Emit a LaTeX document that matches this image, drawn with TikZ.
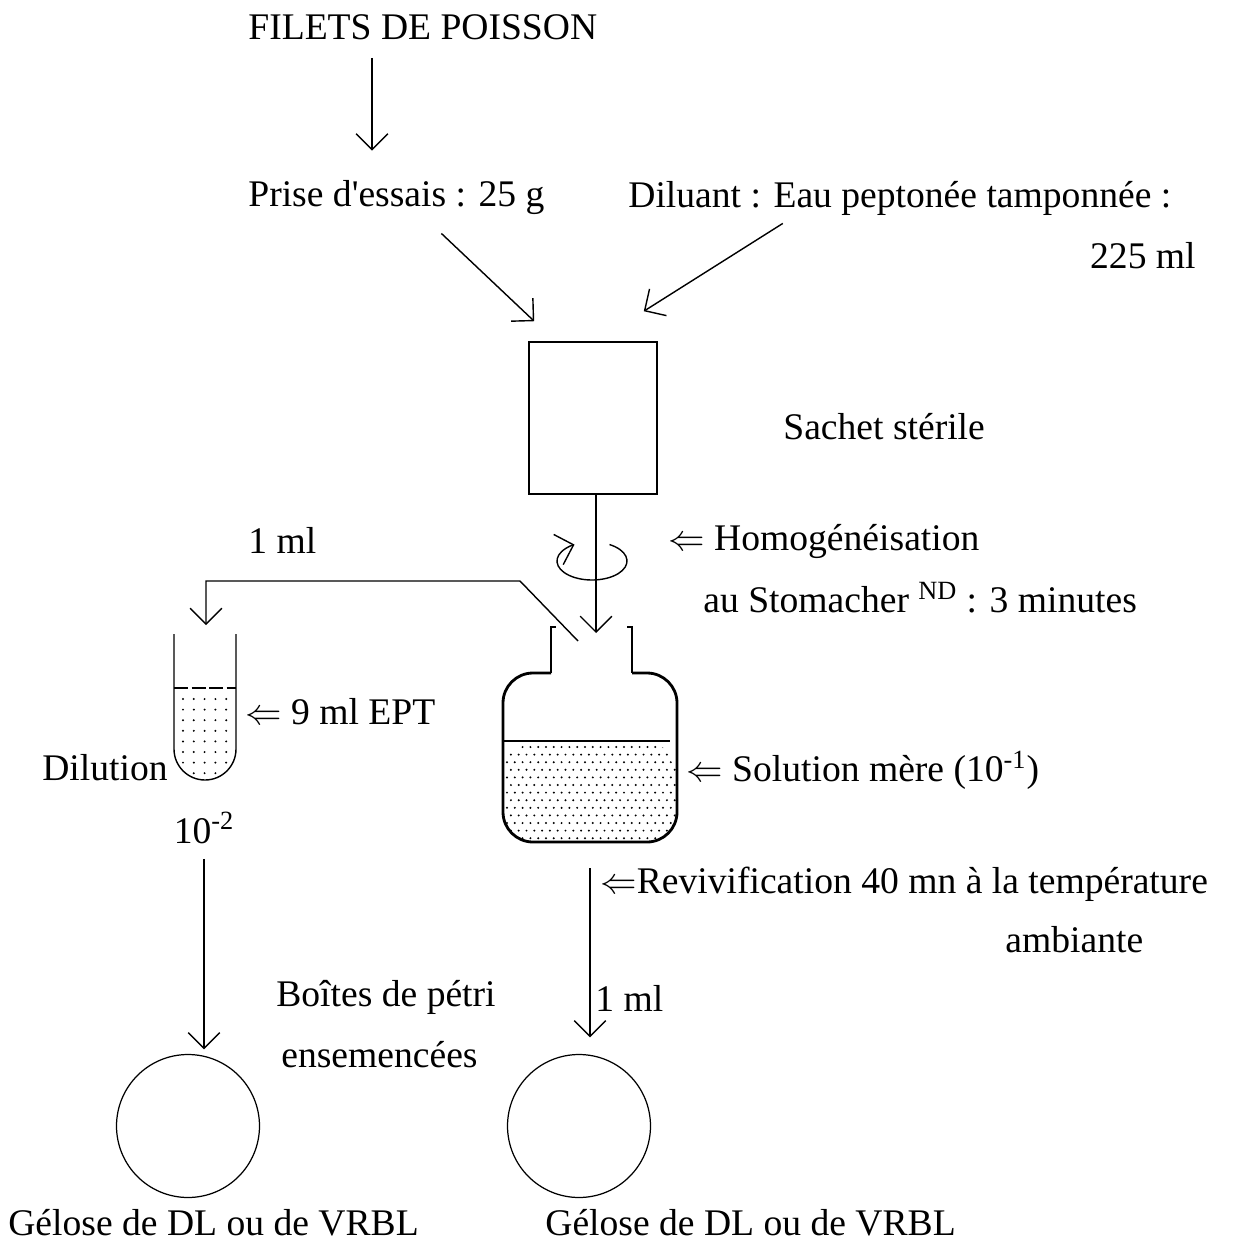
\documentclass[tikz,border=0pt]{standalone}
\usepackage{fontspec}
\setmainfont{Liberation Serif}
\usetikzlibrary{arrows.meta}

\begin{document}
\begin{tikzpicture}[x=0.02cm, y=-0.02cm,
    txt/.style={inner sep=0pt, font=\fontsize{21.4}{25}\selectfont},
    fleche/.style={-{Straight Barb[length=9pt,width=18pt]}, line width=0.8pt}]
\useasboundingbox (0,0) rectangle (1232,1247);
% Nodes
\node[txt, anchor=west] (filets) at (248,27) {FILETS DE POISSON};
\node[txt, anchor=west] (prise) at (248,198) {Prise d\textquotesingle essais : 25 g};
\node[txt, anchor=west] (diluant) at (628,198) {Diluant : Eau peptonée tamponnée :};
\node[txt, anchor=east] (volume) at (1196,256) {225 ml};
\node[draw, line width=0.9pt, minimum width=2.56cm, minimum height=3.04cm, inner sep=0pt] (sachet) at (593,418) {};
\node[txt, anchor=west] (sterile) at (783,427) {Sachet stérile};
\node[txt, anchor=west] (unml) at (248,540) {1 ml};
\node[txt, anchor=west] (homog) at (668,541) {$\Leftarrow$ Homogénéisation};
\node[txt, anchor=west] (stomacher) at (703,598) {au Stomacher \textsuperscript{ND} : 3 minutes};
\node[txt, anchor=west] (ept) at (245,712) {$\Leftarrow$ 9 ml EPT};
\node[txt, anchor=east] (dilution) at (168,768) {Dilution};
\node[txt] (dix) at (204,828) {10\textsuperscript{-2}};
\node[txt, anchor=west] (mere) at (686,770) {$\Leftarrow$ Solution mère (10\textsuperscript{-1})};
\node[txt, anchor=west] (reviv) at (600,884) {$\Leftarrow$Revivification 40 mn à la température};
\node[txt, anchor=west] (ambiante) at (1005,940) {ambiante};
\node[txt, anchor=west] (unmlbis) at (595,998) {1 ml};
\node[txt, anchor=west] (boites) at (276,997) {Boîtes de pétri};
\node[txt, anchor=west] (ensem) at (281,1055) {ensemencées};
\node[circle, draw, line width=0.7pt, minimum size=2.86cm, inner sep=0pt] (boiteG) at (188,1126) {};
\node[circle, draw, line width=0.7pt, minimum size=2.86cm, inner sep=0pt] (boiteD) at (579,1126) {};
\node[txt, anchor=west] (geloseG) at (8,1223) {Gélose de DL ou de VRBL};
\node[txt, anchor=west] (geloseD) at (545,1223) {Gélose de DL ou de VRBL};
\coordinate (axe) at (372,0);
\coordinate (goulot) at (596,633);
\coordinate (pipette) at (578,641);
\coordinate (tube) at (206,625);
\coordinate (revHaut) at (590,868);

% Tube (dilution)
\draw[line width=0.8pt] (174,634) -- (174,749) arc[start angle=180, end angle=0, radius=31] -- (236,634);
\draw[line width=0.7pt, dash pattern=on 8pt off 2pt] (174,688) -- (236,688);
\begin{scope}
  \clip (174,688) -- (174,749) arc[start angle=180, end angle=0, radius=31] -- (236,688) -- cycle;
  \foreach \i in {0,...,4}
    \foreach \j in {0,...,7}
      \fill (183+10.8*\i, 699+10.6*\j) circle (0.022cm);
\end{scope}

% Flacon (solution mere)
\draw[line width=1.6pt] (556,627) -- (551,627) -- (551,673);
\draw[line width=1.6pt] (627,627) -- (632,627) -- (632,673);
\draw[line width=1.6pt, rounded corners=0.6cm] (551,673) -- (503,673) -- (503,842) -- (677,842) -- (677,673) -- (632,673);
\draw[line width=0.9pt] (503,741) -- (670,741);
\begin{scope}
  \clip[rounded corners=0.6cm] (503,743) -- (503,842) -- (677,842) -- (677,743) -- cycle;
  \foreach \j in {0,...,12}
    \foreach \i in {0,...,22}
      \fill ({507+7.8*\i+3.9*mod(\j,2)}, {747+7.6*\j}) circle (0.022cm);
\end{scope}

% Edges
\draw[fleche] ([yshift=-0.36cm]filets.south -| axe) -- ([yshift=0.6cm]prise.north -| axe);
\draw[fleche] ([shift={(45,18)}]prise.south) -- ([shift={(6,-20)}]sachet.north west);
\draw[fleche] ([shift={(-117,8)}]diluant.south) -- ([shift={(-14,-30)}]sachet.north east);
\draw[fleche] (sachet.south -| goulot) -- (goulot);
\draw[fleche] (592,561) ++(-60:35 and 19) arc[start angle=-60, end angle=240, x radius=35, y radius=19];
\draw[fleche] (pipette) -- (520,581) -- (tube |- 0,581) -- (tube);
\draw[fleche, shorten >=0.09cm] ([yshift=-0.3cm]dix.south) -- (dix.south |- boiteG.north);
\draw[fleche, shorten >=0.33cm] (revHaut) -- (revHaut |- boiteD.north);
\end{tikzpicture}
\end{document}
